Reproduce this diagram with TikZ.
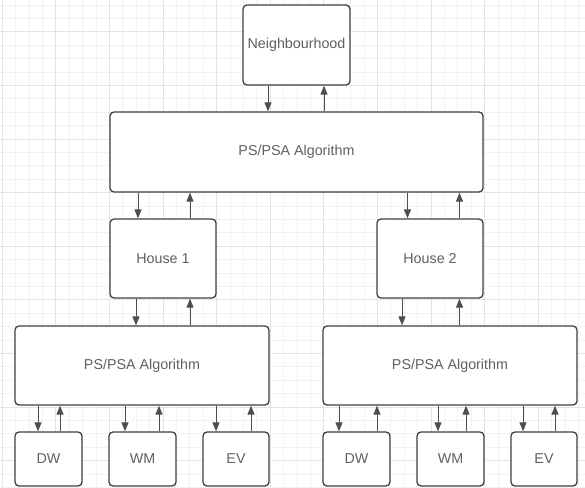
\documentclass[tikz,border=0pt]{standalone}
\usepackage{fontspec}
\setmainfont{Liberation Sans}
\usetikzlibrary{arrows.meta}
\definecolor{gridminor}{HTML}{F2F2F2}
\definecolor{gridmajor}{HTML}{E4E4E4}
\definecolor{boxline}{HTML}{3B4048}
\definecolor{txt}{HTML}{5C6067}
\definecolor{arrline}{HTML}{4A4F57}
\tikzset{
  box/.style={draw=boxline, line width=1.3pt, rounded corners=4pt, fill=white,
    text=txt, font=\fontsize{14.3}{16}\selectfont, inner sep=0pt},
  arr/.style={draw=arrline, line width=1pt, -{Triangle[length=9pt,width=7pt]}},
}
\newcommand\linkpair[4]{%
  \draw[arr] (#3,0 |- #1.south) -- (#3,0 |- #2.north);
  \draw[arr] (#4,0 |- #2.north) -- (#4,0 |- #1.south);}
\begin{document}
\begin{tikzpicture}[x=1pt,y=-1pt]
\useasboundingbox (0,0) rectangle (585,487);
\fill[white] (0,0) rectangle (585,487);
% grid
\foreach \i in {0,...,43} {
  \pgfmathsetmacro\gx{2.2+13.4*\i}
  \draw[gridminor, line width=0.75pt] (\gx,0) -- (\gx,487);
}
\foreach \i in {0,...,36} {
  \pgfmathsetmacro\gy{5+13.4*\i}
  \draw[gridminor, line width=0.75pt] (0,\gy) -- (585,\gy);
}
\foreach \i in {0,...,10} {
  \pgfmathsetmacro\gx{2.2+53.6*\i}
  \draw[gridmajor, line width=0.75pt] (\gx,0) -- (\gx,487);
}
\foreach \i in {0,...,9} {
  \pgfmathsetmacro\gy{-21.8+53.6*\i}
  \draw[gridmajor, line width=0.75pt] (0,\gy) -- (585,\gy);
}
% nodes
\node[box, minimum width=107pt, minimum height=80pt] (nb) at (296.5,45) {Neighbourhood};
\node[box, minimum width=373pt, minimum height=80pt] (alg) at (296.5,152) {PS/PSA Algorithm};
\node[box, minimum width=106pt, minimum height=79pt] (h1) at (163,258.5) {House 1};
\node[box, minimum width=106pt, minimum height=79pt] (h2) at (430,258.5) {House 2};
\node[box, minimum width=254pt, minimum height=79pt] (pl) at (142,365.5) {PS/PSA Algorithm};
\node[box, minimum width=254pt, minimum height=79pt] (pr) at (450,365.5) {PS/PSA Algorithm};
\node[box, minimum width=67pt, minimum height=54pt] (dw1) at (48.5,459) {DW};
\node[box, minimum width=67pt, minimum height=54pt] (wm1) at (142.5,459) {WM};
\node[box, minimum width=66pt, minimum height=54pt] (ev1) at (236,459) {EV};
\node[box, minimum width=67pt, minimum height=54pt] (dw2) at (356.5,459) {DW};
\node[box, minimum width=67pt, minimum height=54pt] (wm2) at (450.5,459) {WM};
\node[box, minimum width=66pt, minimum height=54pt] (ev2) at (544,459) {EV};
% connectors
\linkpair{nb}{alg}{268}{324}
\linkpair{alg}{h1}{138}{190}
\linkpair{alg}{h2}{407.5}{459.5}
\linkpair{h1}{pl}{136}{190}
\linkpair{h2}{pr}{402}{459.5}
\linkpair{pl}{dw1}{38}{60}
\linkpair{pl}{wm1}{125}{159}
\linkpair{pl}{ev1}{216}{251}
\linkpair{pr}{dw2}{339}{377}
\linkpair{pr}{wm2}{438}{466}
\linkpair{pr}{ev2}{523}{555}
\end{tikzpicture}
\end{document}
